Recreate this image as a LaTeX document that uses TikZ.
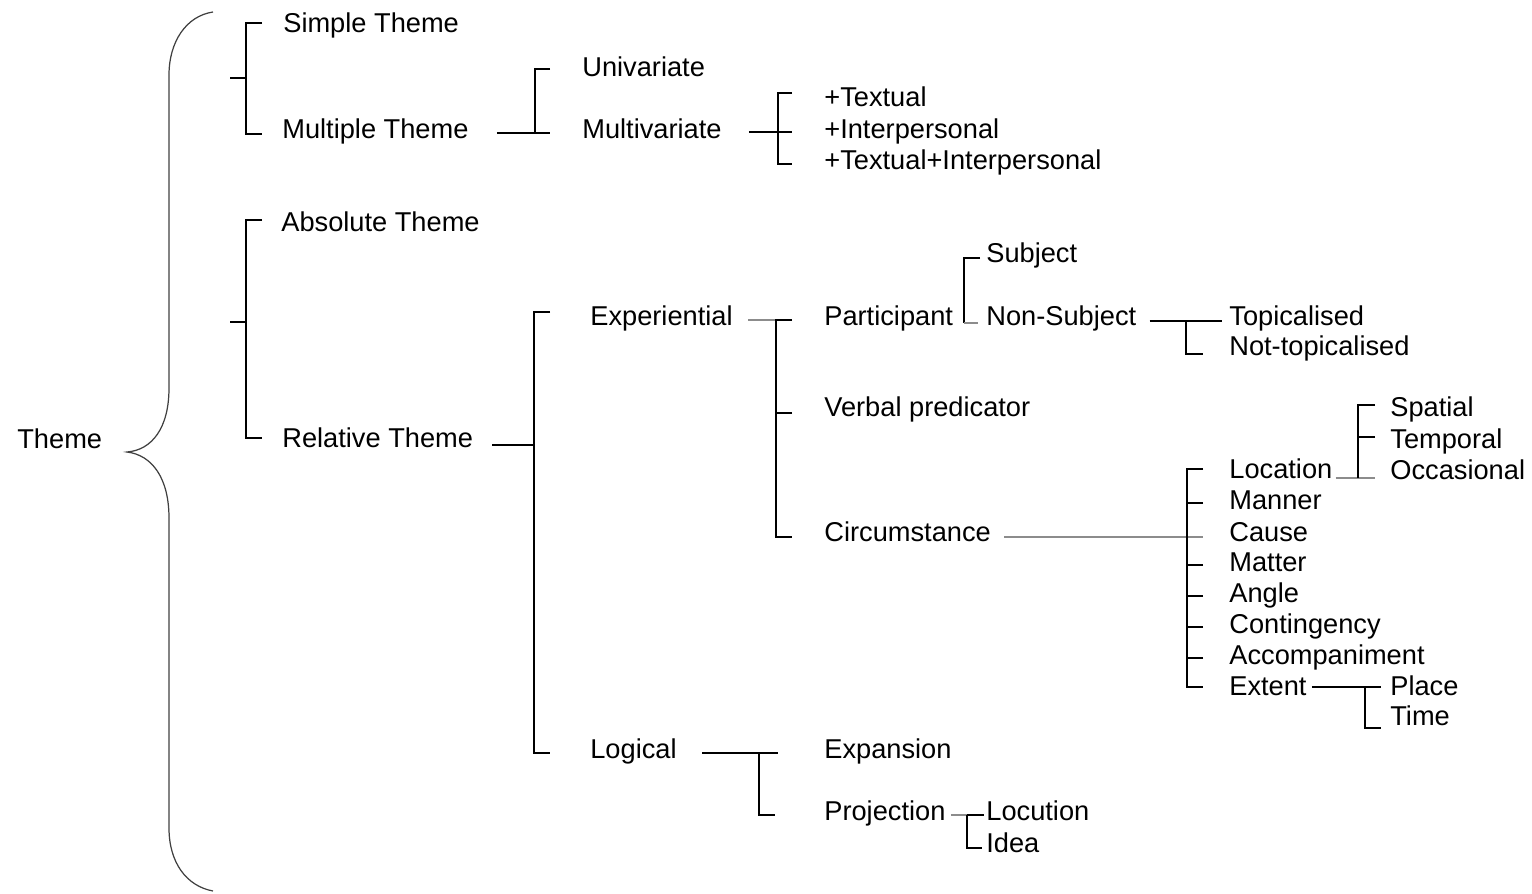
\documentclass[tikz,border=0pt]{standalone}
\usepackage{fontspec}
\setmainfont{Liberation Sans}
\usetikzlibrary{calc}
\begin{document}
\begin{tikzpicture}[x=0.02cm,y=-0.02cm,
  lbl/.style={anchor=west,inner sep=0pt,text height=0.72em,text depth=0em,
              font=\fontsize{15.5}{18}\selectfont},
  conn/.style={line width=0.85pt,black},
  soft/.style={line width=0.85pt,black!45},
  brace/.style={line width=0.7pt,black!75}]
\useasboundingbox (0,0) rectangle (1532,893);

% labels
\node[lbl] (theme) at (17,442) {Theme};
\node[lbl] (st)   at (283,26)  {Simple Theme};
\node[lbl] (mt)   at (282,132) {Multiple Theme};
\node[lbl] (at)   at (281,225) {Absolute Theme};
\node[lbl] (rt)   at (282,441) {Relative Theme};
\node[lbl] (uni)  at (582,70)  {Univariate};
\node[lbl] (mul)  at (582,132) {Multivariate};
\node[lbl] (tx)   at (824,100) {+Textual};
\node[lbl] (ip)   at (824,132) {+Interpersonal};
\node[lbl] (txip) at (824,163) {+Textual+Interpersonal};
\node[lbl] (exp)  at (590,319) {Experiential};
\node[lbl] (log)  at (590,752) {Logical};
\node[lbl] (par)  at (824,319) {Participant};
\node[lbl] (vp)   at (824,410) {Verbal predicator};
\node[lbl] (cir)  at (824,535) {Circumstance};
\node[lbl] (sub)  at (986,256) {Subject};
\node[lbl] (nsub) at (986,319) {Non-Subject};
\node[lbl] (top)  at (1229,319) {Topicalised};
\node[lbl] (ntop) at (1229,349) {Not-topicalised};
\node[lbl] (spa)  at (1390,410) {Spatial};
\node[lbl] (tem)  at (1390,442) {Temporal};
\node[lbl] (occ)  at (1390,473) {Occasional};
\node[lbl] (loc)  at (1229,472) {Location};
\node[lbl] (man)  at (1229,503) {Manner};
\node[lbl] (cau)  at (1229,535) {Cause};
\node[lbl] (mat)  at (1229,565) {Matter};
\node[lbl] (ang)  at (1229,596) {Angle};
\node[lbl] (con)  at (1229,627) {Contingency};
\node[lbl] (acc)  at (1229,658) {Accompaniment};
\node[lbl] (ext)  at (1229,689) {Extent};
\node[lbl] (pla)  at (1390,689) {Place};
\node[lbl] (tim)  at (1390,719) {Time};
\node[lbl] (expn) at (824,752) {Expansion};
\node[lbl] (proj) at (824,814) {Projection};
\node[lbl] (locu) at (986,814) {Locution};
\node[lbl] (idea) at (986,846) {Idea};

% the large brace
\draw[brace] (213,12) .. controls (186,16) and (169,42) .. (169,75)
  -- (169,388) .. controls (169,428) and (152,450) .. (127,452)
  .. controls (152,455) and (169,478) .. (169,518)
  -- (169,828) .. controls (169,862) and (186,886) .. (213,891);

% Simple / Multiple
\draw[conn] ($(st.west)+(-21,-3)$) -- ++(-16,0) |- ($(mt.west)+(-20,2)$);
\draw[conn] ($(st.west)+(-37,52)$) -- ++(-16,0);

% Absolute / Relative
\draw[conn] ($(at.west)+(-19,-5)$) -- ++(-16,0) |- ($(rt.west)+(-20,-3)$);
\draw[conn] ($(at.west)+(-35,97)$) -- ++(-16,0);

% Multiple Theme -> Univariate / Multivariate
\draw[conn] ($(mt.east)+(28,1)$) -- ($(mul.west)+(-32,1)$);
\draw[conn] ($(uni.west)+(-32,-1)$) -- ++(-15,0) |- ($(mul.west)+(-47,1)$);

% Multivariate -> Textual / Interpersonal
\draw[conn] ($(mul.east)+(27,0)$) -- ($(ip.west)+(-32,0)$);
\draw[conn] ($(tx.west)+(-32,-7)$) -- ++(-14,0) |- ($(txip.west)+(-32,1)$);

% Relative Theme -> Experiential / Logical
\coordinate (relspine) at (534,445);
\draw[conn] ($(rt.east)+(19,4)$) -- (relspine);
\draw[conn] ($(exp.west)+(-40,-7)$) -- ++(-16,0) |- ($(log.west)+(-40,1)$);

% Experiential -> Participant / Verbal predicator / Circumstance
\coordinate (expspine) at (776,320);
\draw[soft] ($(exp.east)+(15,1)$) -- (expspine);
\draw[conn] ($(par.west)+(-32,1)$) -- ++(-16,0) |- ($(cir.west)+(-32,2)$);
\draw[conn] ($(vp.west)+(-32,3)$) -- ++(-16,0);

% Participant -> Subject / Non-Subject
\draw[conn] ($(sub.west)+(-6,2)$) -- ++(-16,0) -- ($(nsub.west)+(-22,4)$);
\draw[soft] ($(nsub.west)+(-22,4)$) -- ++(14,0);

% Non-Subject -> Topicalised / Not-topicalised
\draw[conn] ($(nsub.east)+(13,2)$) -- ($(top.west)+(-7,2)$);
\draw[conn] ($(top.west)+(-43,2)$) |- ($(ntop.west)+(-26,5)$);

% Circumstance -> types
\draw[soft] ($(cir.east)+(13,2)$) -- ($(cau.west)+(-26,2)$);
\draw[conn] ($(loc.west)+(-26,-3)$) -- ++(-16,0) |- ($(ext.west)+(-26,-2)$);
\foreach \n in {man,mat,ang,con,acc}
  \draw[conn] ($(\n.west)+(-26,0)$) -- ++(-16,0);

% Location -> Spatial / Temporal / Occasional
\draw[soft] ($(loc.east)+(3,6)$) -- ($(occ.west)+(-15,5)$);
\draw[conn] ($(spa.west)+(-15,-5)$) -- ++(-17,0) -- ($(occ.west)+(-32,5)$);
\draw[conn] ($(tem.west)+(-15,-5)$) -- ++(-17,0);

% Extent -> Place / Time
\draw[conn] ($(ext.east)+(5,-2)$) -- ($(pla.west)+(-9,-2)$);
\draw[conn] ($(pla.west)+(-25,-2)$) |- ($(tim.west)+(-9,9)$);

% Logical -> Expansion / Projection
\draw[conn] ($(log.east)+(25,1)$) -- ($(expn.west)+(-46,1)$);
\draw[conn] ($(expn.west)+(-65,1)$) |- ($(proj.west)+(-49,1)$);

% Projection -> Locution / Idea
\draw[soft] ($(proj.east)+(5,1)$) -- ($(locu.west)+(-19,1)$);
\draw[conn] ($(locu.west)+(-19,1)$) -- ($(locu.west)+(-2,1)$);
\draw[conn] ($(locu.west)+(-19,1)$) |- ($(idea.west)+(-4,2)$);
\end{tikzpicture}
\end{document}
